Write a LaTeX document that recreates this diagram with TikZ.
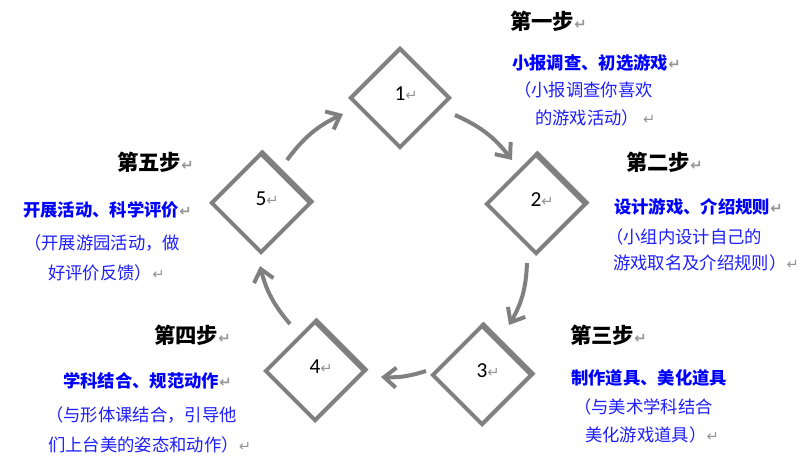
\documentclass[tikz,border=0pt]{standalone}
\usepackage{fontspec}
\setmainfont{Carlito}
\newfontfamily\cjk{Noto Sans CJK SC}
\newfontfamily\dejavu{DejaVu Sans}
\usetikzlibrary{shapes.geometric,arrows.meta}
\definecolor{dgray}{RGB}{128,128,128}
\definecolor{retgray}{RGB}{150,150,150}
\definecolor{txtblue}{RGB}{0,0,255}
\definecolor{lblue}{RGB}{30,30,255}
\newcommand\ret{{\dejavu\fontsize{11}{11}\selectfont\color{retgray}↵}}
\begin{document}
\begin{tikzpicture}[x=0.75pt,y=-0.75pt,
  dmd/.style={diamond, draw=dgray, line width=3pt, minimum width=75pt,
    minimum height=75pt, inner sep=0pt, fill=white},
  thickedge/.style={draw=dgray, line width=3pt, shift={(2,-2)}},
  arr/.style={draw=dgray, line width=3pt,
    -{Straight Barb[length=9pt,width=15pt]}},
  num/.style={font=\fontsize{16}{16}\selectfont, inner sep=0pt},
  head/.style={anchor=west, inner sep=0pt, font=\cjk\bfseries\fontsize{16}{16}\selectfont},
  key/.style={anchor=west, inner sep=0pt, text=txtblue, font=\cjk\bfseries\fontsize{13}{13}\selectfont},
  desc/.style={anchor=west, inner sep=0pt, text=lblue, font=\cjk\fontsize{13}{13}\selectfont}
]
\useasboundingbox (0,0) rectangle (807,473);

% diamonds
\node[dmd] (d1) at (400,98) {};
\node[dmd] (d2) at (536,204) {};
\node[dmd] (d3) at (482,375) {};
\node[dmd] (d4) at (315,371) {};
\node[dmd] (d5) at (261,203) {};
\foreach \d in {d2,d3,d4,d5}
  \draw[thickedge] (\d.north) -- (\d.east);

% numbers
\node[num] (n1) at (400,94) {1\rlap{\ret}};
\node[num] (n2) at (536,200) {2\rlap{\ret}};
\node[num] (n3) at (482,371) {3\rlap{\ret}};
\node[num] (n4) at (315,367) {4\rlap{\ret}};
\node[num] (n5) at (261,199) {5\rlap{\ret}};

% arrows
\coordinate (s51) at (287,160); \coordinate (e51) at (343,114);
\coordinate (s12) at (455,115); \coordinate (e12) at (512,160);
\coordinate (s23) at (527,263); \coordinate (e23) at (509,325);
\coordinate (s34) at (426,371); \coordinate (e34) at (381,377);
\coordinate (s45) at (290,324); \coordinate (e45) at (260,266);
\draw[arr] (s51) to[bend left=14] (e51);
\draw[arr] (s12) to[bend left=14] (e12);
\draw[arr] (s23) to[bend left=14] (e23);
\draw[arr] (s34) to[bend left=10] (e34);
\draw[arr] (s45) to[bend left=13] (e45);

% step 1
\node[head] (h1) at (510,21) {第一步\ret};
\node[key]  (k1) at (512,63) {小报调查、初选游戏\ret};
\node[desc] (p1a) at (514,90) {（小报调查你喜欢};
\node[desc] (p1b) at (535,118) {的游戏活动）\ \ret};
% step 2
\node[head] (h2) at (626,162) {第二步\ret};
\node[key]  (k2) at (614,207) {设计游戏、介绍规则\ret};
\node[desc] (p2a) at (606,237) {（小组内设计自己的};
\node[desc] (p2b) at (613,263) {游戏取名及介绍规则）\ret};
% step 3
\node[head] (h3) at (570,335) {第三步\ret};
\node[key]  (k3) at (571,378) {制作道具、美化道具};
\node[desc] (p3a) at (574,407) {（与美术学科结合};
\node[desc] (p3b) at (585,435) {美化游戏道具）\ret};
% step 4
\node[head] (h4) at (154,335) {第四步\ret};
\node[key]  (k4) at (63,381) {学科结合、规范动作\ret};
\node[desc] (p4a) at (46,415) {（与形体课结合，引导他};
\node[desc] (p4b) at (48,445) {们上台美的姿态和动作）\ret};
% step 5
\node[head] (h5) at (117,162) {第五步\ret};
\node[key]  (k5) at (23,210) {开展活动、科学评价\ret};
\node[desc] (p5a) at (24,243) {（开展游园活动，做};
\node[desc] (p5b) at (48,273) {好评价反馈）\ret};
\end{tikzpicture}
\end{document}
